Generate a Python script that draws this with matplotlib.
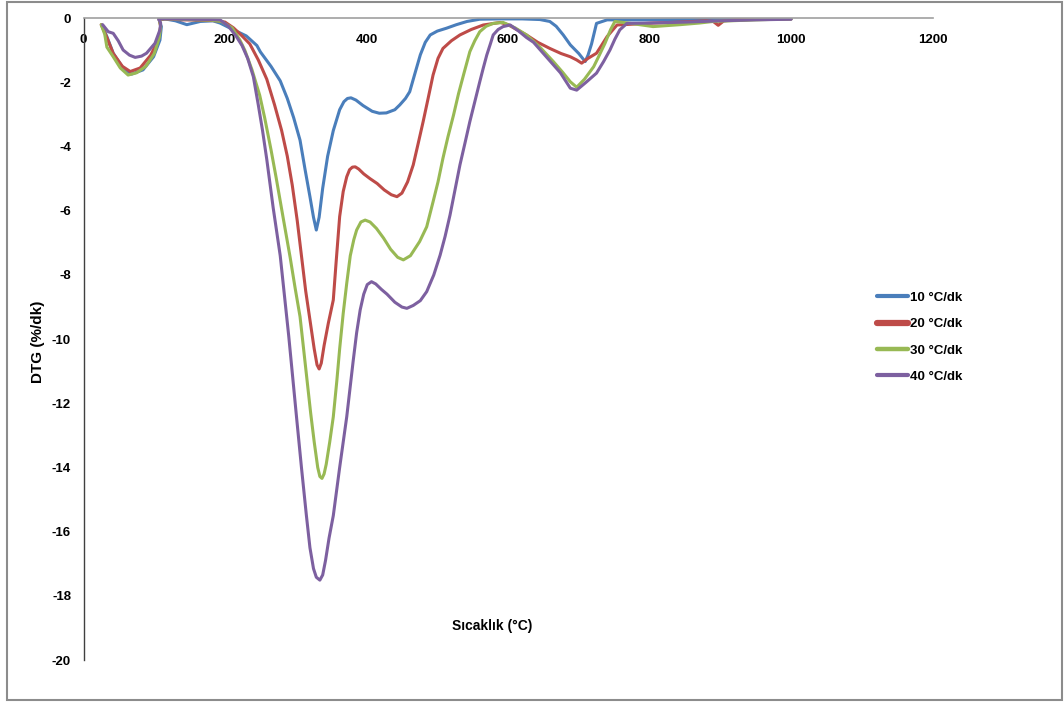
import matplotlib
matplotlib.use("Agg")
import matplotlib.pyplot as plt
from matplotlib.patches import Rectangle

plt.rcParams['font.family'] = ['Liberation Sans', 'DejaVu Sans']
plt.rcParams['axes.unicode_minus'] = False

# DTG curves, temperature (°C) vs DTG (%/dk)
x_10 = [26, 33, 42, 56, 68, 84, 99, 108, 110, 107, 115, 130, 146, 165, 183, 193, 211, 230, 245, 250,
        265, 278, 288, 297, 306, 313, 320, 325, 329, 333, 338, 345, 353, 362, 368, 373, 378, 385, 395,
        408, 418, 428, 440, 447, 455, 461, 468, 476, 483, 490, 500, 513, 527, 542, 560, 589, 620, 645,
        659, 668, 678, 688, 700, 709, 713, 718, 725, 740, 800, 900, 1000]
y_10 = [-0.21, -0.57, -1.09, -1.56, -1.74, -1.61, -1.2, -0.68, -0.26, -0.05, -0.02, -0.08, -0.2, -0.1,
        -0.08, -0.15, -0.35, -0.55, -0.85, -1.05, -1.5, -1.95, -2.5, -3.1, -3.8, -4.7, -5.56, -6.2,
        -6.6, -6.2, -5.3, -4.3, -3.5, -2.85, -2.6, -2.5, -2.48, -2.55, -2.72, -2.9, -2.96, -2.95,
        -2.85, -2.7, -2.5, -2.29, -1.75, -1.14, -0.75, -0.52, -0.4, -0.31, -0.2, -0.1, -0.03, -0.02,
        -0.02, -0.04, -0.1, -0.25, -0.52, -0.83, -1.1, -1.35, -1.15, -0.8, -0.16, -0.05, -0.05, -0.03,
        -0.02]

x_20 = [25, 33, 42, 55, 66, 80, 95, 106, 109, 107, 115, 140, 170, 190, 200, 212, 224, 235, 247, 259,
        270, 280, 288, 295, 302, 308, 314, 320, 326, 330, 333, 336, 340, 346, 353, 357, 362, 367, 372,
        376, 380, 384, 389, 396, 405, 415, 425, 435, 443, 450, 458, 466, 473, 480, 487, 494, 501, 508,
        520, 532, 548, 565, 589, 600, 612, 626, 642, 659, 675, 688, 697, 704, 713, 725, 732, 740, 754,
        780, 805, 843, 880, 890, 897, 905, 920, 960, 1000]
y_20 = [-0.2, -0.6, -1.1, -1.5, -1.66, -1.55, -1.15, -0.65, -0.25, -0.05, -0.02, -0.05, -0.06, -0.08,
        -0.12, -0.3, -0.55, -0.8, -1.3, -1.9, -2.7, -3.5, -4.3, -5.2, -6.3, -7.4, -8.5, -9.4, -10.3,
        -10.8, -10.93, -10.75, -10.2, -9.5, -8.78, -7.6, -6.18, -5.4, -4.94, -4.72, -4.64, -4.63, -4.7,
        -4.85, -5.0, -5.15, -5.35, -5.5, -5.56, -5.45, -5.1, -4.57, -3.9, -3.22, -2.5, -1.77, -1.25,
        -0.94, -0.7, -0.52, -0.35, -0.21, -0.13, -0.2, -0.35, -0.52, -0.75, -0.94, -1.1, -1.2, -1.3,
        -1.4, -1.25, -1.09, -0.85, -0.57, -0.21, -0.18, -0.15, -0.12, -0.08, -0.1, -0.22, -0.08, -0.05,
        -0.03, -0.02]

x_30 = [25, 30, 33, 36, 42, 52, 63, 75, 88, 100, 107, 109, 107, 115, 150, 180, 195, 210, 221, 228,
        238, 249, 256, 265, 272, 282, 292, 299, 306, 315, 321, 326, 331, 334, 337, 340, 343, 348, 353,
        358, 362, 367, 372, 377, 382, 386, 392, 398, 405, 414, 424, 434, 444, 452, 462, 475, 485, 494,
        501, 508, 515, 523, 530, 537, 546, 553, 560, 569, 579, 593, 610, 626, 645, 664, 677, 688, 697,
        708, 721, 729, 737, 745, 751, 770, 805, 843, 870, 890, 950, 1000]
y_30 = [-0.2, -0.5, -0.9, -1.0, -1.2, -1.55, -1.77, -1.7, -1.5, -1.1, -0.6, -0.25, -0.03, -0.02, -0.04,
        -0.06, -0.1, -0.3, -0.68, -1.0, -1.6, -2.4, -3.1, -4.1, -4.94, -6.2, -7.45, -8.4, -9.3, -11.1,
        -12.3, -13.2, -14.0, -14.28, -14.34, -14.2, -13.9, -13.2, -12.42, -11.3, -10.3, -9.2, -8.26,
        -7.4, -6.9, -6.6, -6.35, -6.29, -6.35, -6.55, -6.85, -7.2, -7.45, -7.53, -7.4, -6.96, -6.5,
        -5.72, -5.1, -4.36, -3.7, -3.01, -2.35, -1.77, -1.04, -0.7, -0.42, -0.25, -0.16, -0.13, -0.3,
        -0.52, -0.9, -1.35, -1.68, -1.98, -2.15, -1.9, -1.51, -1.15, -0.78, -0.35, -0.1, -0.15, -0.26,
        -0.2, -0.15, -0.1, -0.05, -0.02]

x_40 = [27, 35, 42, 49, 56, 65, 73, 82, 89, 101, 108, 109, 106, 115, 150, 180, 193, 205, 216, 224,
        232, 240, 247, 253, 259, 268, 278, 290, 301, 308, 315, 320, 325, 329, 334, 338, 342, 347, 353,
        362, 372, 381, 386, 391, 396, 401, 407, 413, 421, 429, 440, 450, 457, 466, 476, 485, 495, 504,
        511, 518, 525, 532, 539, 546, 553, 560, 565, 570, 575, 579, 586, 593, 603, 615, 626, 636, 650,
        662, 674, 688, 697, 710, 725, 735, 744, 751, 758, 768, 800, 850, 900, 950, 1000]
y_40 = [-0.2, -0.42, -0.47, -0.7, -0.99, -1.15, -1.22, -1.18, -1.09, -0.78, -0.36, -0.15, -0.02, -0.02,
        -0.03, -0.04, -0.05, -0.25, -0.57, -0.85, -1.25, -1.82, -2.7, -3.5, -4.4, -5.9, -7.4, -9.9,
        -12.42, -14.0, -15.5, -16.5, -17.15, -17.42, -17.51, -17.35, -16.9, -16.2, -15.5, -14.0,
        -12.42, -10.7, -9.8, -9.09, -8.6, -8.3, -8.21, -8.28, -8.45, -8.6, -8.85, -9.0, -9.04, -8.95,
        -8.8, -8.52, -8.0, -7.38, -6.8, -6.13, -5.35, -4.57, -3.9, -3.22, -2.6, -1.98, -1.55, -1.14,
        -0.8, -0.52, -0.35, -0.26, -0.21, -0.4, -0.6, -0.75, -1.1, -1.4, -1.7, -2.18, -2.24, -2.0,
        -1.71, -1.35, -0.99, -0.65, -0.36, -0.16, -0.15, -0.12, -0.08, -0.05, -0.03]

labels = ['10 °C/dk', '20 °C/dk', '30 °C/dk', '40 °C/dk']
colors = ['#4a7ebb', '#be4b48', '#98b954', '#7d60a0']
x_ticks = [0, 200, 400, 600, 800, 1000, 1200]
y_ticks = [0, -2, -4, -6, -8, -10, -12, -14, -16, -18, -20]

fig = plt.figure(figsize=(10.64, 7.02), dpi=100)
ax = fig.add_axes([0.0785, 0.0598, 0.798, 0.9142])

series = [(x_10, y_10), (x_20, y_20), (x_30, y_30), (x_40, y_40)]
for (xs, ys), lab, col in zip(series, labels, colors):
    ax.plot(xs, ys, color=col, linewidth=2.2, label=lab,
            solid_joinstyle='round', solid_capstyle='round')

ax.set_xlim(0, 1200)
ax.set_ylim(-20, 0)
ax.set_xticks(x_ticks)
ax.set_yticks(y_ticks)

# x axis sits on the zero line at the top, labels drawn just under it
ax.spines['bottom'].set_visible(False)
ax.spines['right'].set_visible(False)
ax.spines['top'].set_color('#a0a0a0')
ax.spines['top'].set_linewidth(1.2)
ax.spines['left'].set_color('#404040')
ax.spines['left'].set_linewidth(1.0)
ax.tick_params(axis='x', top=True, bottom=False, labeltop=True, labelbottom=False,
               length=0, pad=-20)
ax.tick_params(axis='y', length=0, pad=9)
for t in ax.get_xticklabels() + ax.get_yticklabels():
    t.set_fontsize(9.5)
    t.set_fontweight('bold')

fig.text(0.036, 0.513, 'DTG (%/dk)', rotation=90, ha='center', va='center',
         fontsize=11, fontweight='bold')
fig.text(0.4624, 0.108, 'Sıcaklık (°C)', ha='center', va='center',
         fontsize=10, fontweight='bold')

leg = ax.legend(loc='upper left', bbox_to_anchor=(0.8185, 0.594), bbox_transform=fig.transFigure,
                frameon=False, fontsize=9.5, handlelength=2.35, handletextpad=0.08,
                labelspacing=1.07, borderpad=0)
for txt in leg.get_texts():
    txt.set_fontweight('bold')
for line, lw in zip(leg.get_lines(), [3, 4.5, 3.2, 3]):
    line.set_linewidth(lw)

# outer chart frame
fig.patches.append(Rectangle((0.0066, 0.003), 0.9915, 0.994, transform=fig.transFigure,
                             fill=False, edgecolor='#8c8c8c', linewidth=1.5))

fig.savefig('out.png', dpi=100)
